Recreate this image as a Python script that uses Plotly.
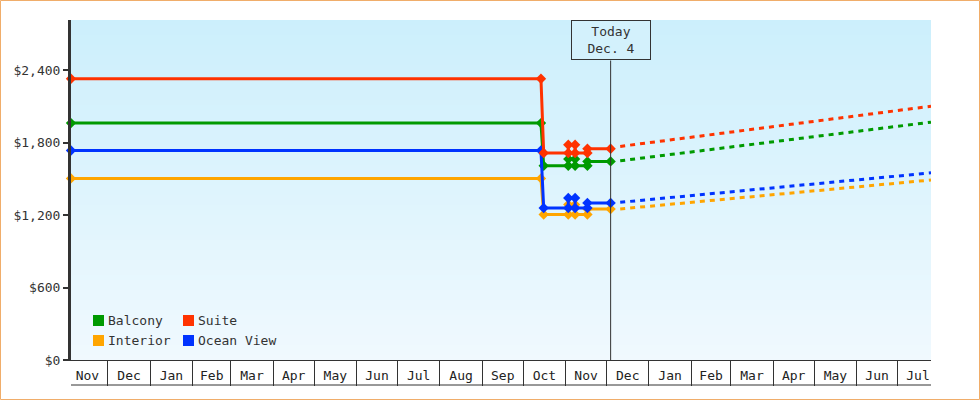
import plotly.graph_objects as go

# ---------------- data ----------------
today = "2023-12-04"
today_text = "Today<br>Dec. 4"
range_start = "2022-11-04"
range_end = "2024-07-25 12:00"

series_names = ["Interior", "Balcony", "Ocean View", "Suite"]
legend_cols = [["Balcony", "Interior"], ["Suite", "Ocean View"]]

hist_dates = ["2022-11-04", "2023-10-14", "2023-10-16", "2023-11-03", "2023-11-03",
              "2023-11-08", "2023-11-08", "2023-11-17", "2023-11-17", "2023-12-04"]
balcony_hist = [1962, 1962, 1609, 1609, 1664, 1664, 1609, 1609, 1645, 1645]
suite_hist = [2330, 2330, 1714, 1714, 1783, 1783, 1714, 1714, 1750, 1750]
interior_hist = [1504, 1504, 1205, 1205, 1287, 1287, 1205, 1205, 1250, 1250]
ocean_hist = [1735, 1735, 1259, 1259, 1342, 1342, 1259, 1259, 1301, 1301]

forecast_dates = ["2023-12-11", "2024-07-25 12:00"]
balcony_fc = [1650, 1970]
suite_fc = [1769, 2102]
interior_fc = [1251, 1491]
ocean_fc = [1306, 1550]

y_ticks = [0, 600, 1200, 1800, 2400]
y_tick_labels = ["$0", "$600", "$1,200", "$1,800", "$2,400"]
y_max = 2816

# ---------------- styles ----------------
colors = {"Balcony": "#009a00", "Suite": "#ff3300", "Interior": "#ffa500", "Ocean View": "#0033ff"}
hist = {"Balcony": balcony_hist, "Suite": suite_hist, "Interior": interior_hist, "Ocean View": ocean_hist}
fc = {"Balcony": balcony_fc, "Suite": suite_fc, "Interior": interior_fc, "Ocean View": ocean_fc}

FONT = "DejaVu Sans Mono"
INK = "#333333"
ML, MR, MT, MB = 71, 49, 20, 40
W, H = 980, 400
PW, PH = W - ML - MR, H - MT - MB


def px_x(px):
    return (px - ML) / PW


def px_y(py):
    return (MT + PH - py) / PH


fig = go.Figure()

for n in series_names:
    fig.add_trace(go.Scatter(
        x=forecast_dates, y=fc[n], mode="lines", showlegend=False, legendgroup=n,
        name=n + " (forecast)",
        line=dict(color=colors[n], width=3, dash="5px,5px"), hoverinfo="skip"))
for n in series_names:
    fig.add_trace(go.Scatter(
        x=hist_dates, y=hist[n], mode="lines+markers", name=n, showlegend=False, legendgroup=n,
        cliponaxis=False,
        line=dict(color=colors[n], width=3),
        marker=dict(symbol="diamond", size=8, color=colors[n])))

# gradient background bands
shapes = []
nb = 68
top = (204, 239, 252)
bot = (240, 249, 254)
for i in range(nb):
    t = (i + 0.5) / nb
    c = tuple(round(bot[k] + (top[k] - bot[k]) * t) for k in range(3))
    shapes.append(dict(type="rect", xref="x domain", yref="y domain", x0=0, x1=1,
                       y0=i / nb, y1=(i + 1) / nb, layer="below",
                       fillcolor="rgb(%d,%d,%d)" % c, line=dict(width=0)))

# today line
shapes.append(dict(type="line", xref="x", yref="y domain", x0=today, x1=today,
                   y0=0, y1=(PH - 40.5) / PH, line=dict(color=INK, width=1)))
# bottom row line under month labels
shapes.append(dict(type="line", xref="x domain", yref="paper", x0=0, x1=1,
                   y0=-25 / PH, y1=-25 / PH, line=dict(color=INK, width=1)))
# outer border
shapes.append(dict(type="rect", xref="paper", yref="paper",
                   x0=px_x(0.5), x1=px_x(W - 0.5), y0=px_y(H - 0.5), y1=px_y(0.5),
                   line=dict(color="#f0ad6a", width=1), fillcolor="rgba(0,0,0,0)"))

annotations = [dict(text=today_text, x=today, xref="x", y=1, yref="paper",
                    yanchor="top", xanchor="center", showarrow=False,
                    bgcolor="#d3f1fc", bordercolor=INK, borderwidth=1, borderpad=0,
                    width=78, height=38, font=dict(family=FONT, size=13, color=INK))]

# legend (two columns): colour patch + label
for ci, col in enumerate(legend_cols):
    for ri, n in enumerate(col):
        lx = 93 + ci * 90
        cy = 320.5 + ri * 20
        shapes.append(dict(type="rect", xref="paper", yref="paper",
                           x0=px_x(lx), x1=px_x(lx + 11), y0=px_y(cy + 5.5), y1=px_y(cy - 5.5),
                           fillcolor=colors[n], line=dict(width=0)))
        annotations.append(dict(text=n, x=px_x(lx + 13), y=px_y(cy), xref="paper", yref="paper",
                                xanchor="left", yanchor="middle", showarrow=False,
                                font=dict(family=FONT, size=13, color=INK)))

fig.update_layout(
    width=W, height=H,
    margin=dict(l=ML, r=MR, t=MT, b=MB),
    paper_bgcolor="white", plot_bgcolor="#e6f6fd",
    font=dict(family=FONT, size=13, color=INK),
    shapes=shapes,
    showlegend=False,
    hovermode=False,
    annotations=annotations,
    xaxis=dict(type="date", range=[range_start, range_end], showgrid=False, zeroline=False,
               tick0="2022-11-01", dtick="M1", tickformat="%b", ticklabelmode="period",
               ticks="outside", ticklen=25, tickwidth=1, tickcolor=INK,
               ticklabelstandoff=-22,
               showline=True, linecolor=INK, linewidth=1,
               tickfont=dict(family=FONT, size=13, color="#222")),
    yaxis=dict(range=[0, y_max], tickmode="array", tickvals=y_ticks, ticktext=y_tick_labels,
               showgrid=False, zeroline=False, ticks="outside", ticklen=5, tickwidth=2,
               tickcolor=INK, showline=True, linecolor=INK, linewidth=3,
               tickfont=dict(family=FONT, size=13, color=INK)),
)

fig.write_html("out.html", config={"displayModeBar": False},
               post_script="document.body.style.margin='0';document.body.style.padding='0';")
